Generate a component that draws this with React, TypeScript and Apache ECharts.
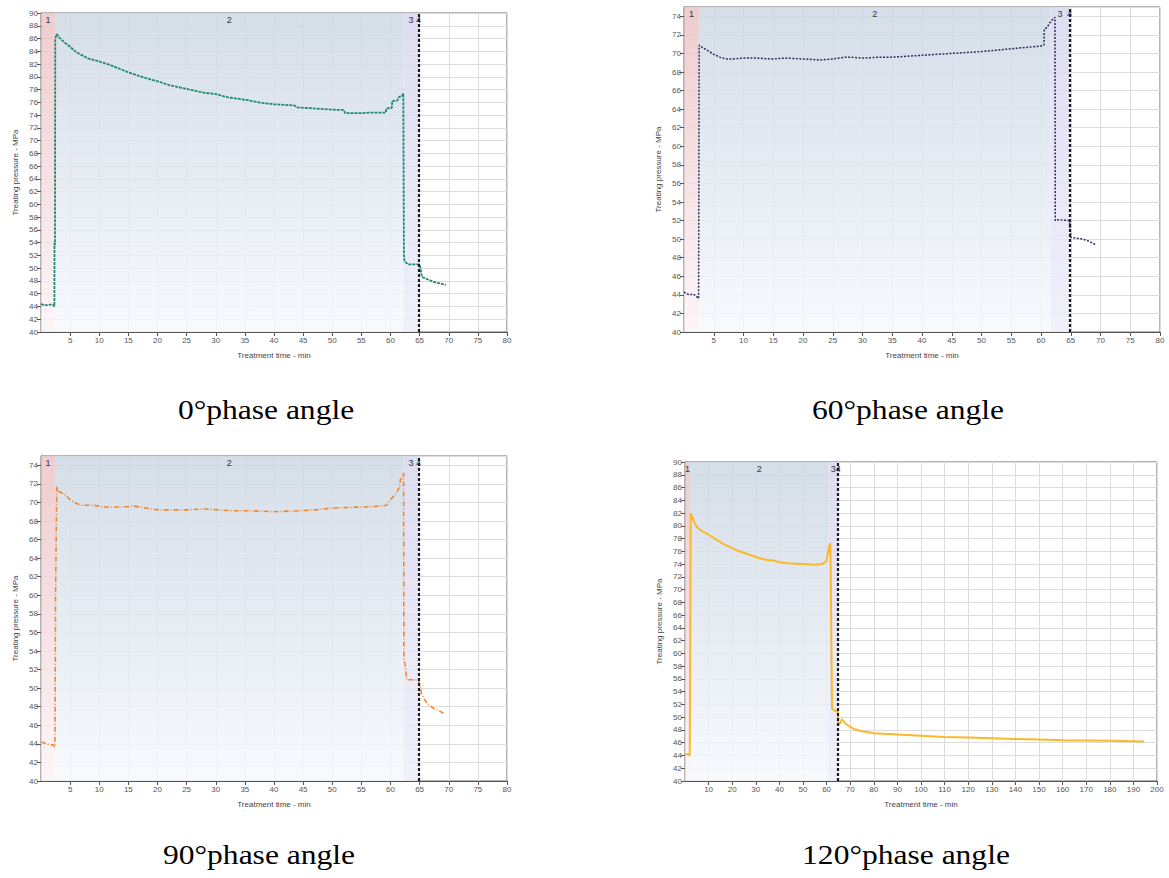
import React, { useEffect, useRef } from 'react';
import * as echarts from 'echarts';

// ---------- data ----------
const time0 = [0, 0.5, 1, 1.5, 2, 2.3, 2.32, 2.4, 2.45, 2.7, 3.2, 4, 5, 6, 7, 8, 10, 12, 15, 18, 20, 22, 25, 28, 30, 32, 35, 38, 40, 43.5, 44, 46, 50, 52, 52.2, 55, 57, 59.2, 59.3, 60.2, 60.3, 61.2, 61.4, 62, 62.2, 62.3, 62.4, 63, 64, 64.9, 65.1, 65.2, 65.4, 66, 67, 68, 69.5];
const pressure0 = [44.4, 44.2, 44.2, 44.3, 44.3, 44.0, 54.0, 53.6, 86.0, 86.7, 86.1, 85.4, 84.7, 83.9, 83.4, 82.9, 82.4, 81.8, 80.7, 79.8, 79.3, 78.7, 78.1, 77.5, 77.3, 76.8, 76.4, 75.9, 75.7, 75.5, 75.2, 75.1, 74.85, 74.8, 74.3, 74.3, 74.4, 74.4, 75.05, 75.1, 76.2, 76.3, 76.8, 77.0, 77.4, 52.2, 51.1, 50.6, 50.6, 50.6, 50.2, 49.7, 48.6, 48.4, 48.0, 47.7, 47.4];

const time60 = [0, 0.5, 1, 1.5, 2, 2.45, 2.55, 2.7, 3.5, 4, 5, 6, 7, 8, 10, 12, 15, 17, 20, 23, 25, 27, 28, 30, 33, 35, 40, 45, 50, 55, 60, 60.5, 60.55, 61, 61.5, 62, 62.35, 62.4, 62.7, 64.7, 64.8, 65, 66, 67, 68, 69.2];
const pressure60 = [44.3, 44.1, 44.0, 44.1, 43.9, 43.6, 70.9, 70.8, 70.5, 70.3, 69.9, 69.6, 69.4, 69.4, 69.5, 69.5, 69.4, 69.5, 69.4, 69.3, 69.4, 69.6, 69.6, 69.5, 69.6, 69.6, 69.8, 70.0, 70.2, 70.5, 70.8, 70.9, 72.6, 72.8, 73.3, 73.7, 73.9, 52.0, 52.1, 52.0, 51.9, 50.2, 50.1, 50.0, 49.8, 49.4];

const time90 = [0, 0.5, 1, 1.5, 2, 2.4, 2.5, 2.7, 3, 4, 5, 6, 7, 9, 11, 14, 16, 18, 20, 25, 28, 33, 36, 40, 44, 47, 50, 55, 58, 59.3, 60, 61, 61.5, 61.7, 62, 62.25, 62.3, 62.5, 62.8, 64.8, 65, 65.3, 65.8, 66.5, 67.5, 68.5, 69.1];
const pressure90 = [44.2, 44.1, 44.0, 43.9, 43.9, 43.7, 60.0, 71.7, 71.2, 70.9, 70.3, 69.9, 69.7, 69.7, 69.5, 69.5, 69.6, 69.4, 69.2, 69.2, 69.3, 69.1, 69.1, 69.0, 69.1, 69.2, 69.4, 69.5, 69.6, 69.7, 70.3, 71.0, 71.6, 72.5, 72.6, 73.2, 53.1, 52.5, 50.9, 50.9, 50.3, 49.5, 48.8, 48.2, 47.8, 47.5, 47.3];

const time120 = [0, 1.5, 2.0, 2.2, 2.4, 3, 4, 5, 7, 10, 13, 16, 20, 23, 27, 31, 35, 37, 40, 45, 50, 55, 58, 60, 61, 61.6, 62.3, 63, 64, 64.8, 65, 65.7, 66.5, 68, 70, 72, 75, 80, 90, 100, 110, 120, 130, 140, 150, 160, 170, 180, 194.6];
const pressure120 = [44.2, 44.2, 44.0, 60.0, 82.0, 81.5, 80.5, 79.8, 79.2, 78.6, 77.9, 77.2, 76.5, 76.0, 75.5, 75.0, 74.6, 74.6, 74.3, 74.1, 74.0, 73.9, 74.0, 74.5, 76.7, 77.3, 51.4, 51.1, 50.9, 51.0, 48.8, 49.0, 49.7, 49.0, 48.5, 48.1, 47.8, 47.5, 47.3, 47.1, 46.9, 46.8, 46.7, 46.6, 46.5, 46.4, 46.35, 46.3, 46.2];

// stage boundaries: end of stage 1, end of stage 2, end of stage 3 (dashed line)
const stages0 = [2.4, 62.2, 64.8];
const stages60 = [2.5, 61.6, 64.8];
const stages90 = [2.4, 62.2, 64.8];
const stages120 = [2.1, 60.8, 64.9];

const captions = ['0°phase angle', '60°phase angle', '90°phase angle', '120°phase angle'];
const xMaxes = [80, 80, 80, 200];
const xIntervals = [5, 5, 5, 10];
const yMaxes = [90, 75, 75, 90];
const lineColors = ['#1f8a6f', '#2b2f5c', '#f2862e', '#fbb82a'];

const times = [time0, time60, time90, time120];
const pressures = [pressure0, pressure60, pressure90, pressure120];
const stages = [stages0, stages60, stages90, stages120];

// ---------- layout ----------
const grids = [
  { left: 41, top: 13, width: 466, height: 319 },
  { left: 684, top: 7, width: 476, height: 325 },
  { left: 41, top: 456, width: 466, height: 325 },
  { left: 685, top: 462, width: 472, height: 319 },
];
const captionPos = [
  { x: 266, y: 410 },
  { x: 908, y: 410 },
  { x: 259, y: 855 },
  { x: 906, y: 855 },
];
const lineTypes: any[] = [[3, 1], [2, 1.5], [5, 2, 1, 2], 'solid'];
const lineWidths = [1.8, 1.5, 1.6, 2];

const grad = (top: string, bottom: string) => ({
  type: 'linear', x: 0, y: 0, x2: 0, y2: 1,
  colorStops: [
    { offset: 0, color: top },
    { offset: 1, color: bottom },
  ],
});

const labelFont = 'Liberation Sans';

function buildOption() {
  const grid: any[] = [];
  const xAxis: any[] = [];
  const yAxis: any[] = [];
  const series: any[] = [];
  const graphic: any[] = [];
  for (let i = 0; i < 4; i++) {
    grid.push({ ...grids[i], show: true, borderColor: '#6a6a6a', borderWidth: 1, backgroundColor: '#fff', containLabel: false });
    xAxis.push({
      type: 'value', gridIndex: i, min: 0, max: xMaxes[i], interval: xIntervals[i],
      name: 'Treatment time - min', nameLocation: 'middle', nameGap: 19,
      nameTextStyle: { fontSize: 8, color: '#444', fontFamily: labelFont },
      axisLine: { lineStyle: { color: '#555' } },
      axisTick: { show: true, length: 4, lineStyle: { color: '#555' } },
      axisLabel: { showMinLabel: false, fontSize: 8, color: '#555', fontFamily: labelFont, margin: 4 },
      splitLine: { show: true, lineStyle: { color: '#dcdcdc' } },
    });
    yAxis.push({
      type: 'value', gridIndex: i, min: 40, max: yMaxes[i], interval: 2,
      name: 'Treating pressure - MPa', nameLocation: 'middle', nameGap: 22,
      nameTextStyle: { fontSize: 8, color: '#444', fontFamily: labelFont },
      axisLine: { show: true, lineStyle: { color: '#555' } },
      axisTick: { show: true, length: 4, lineStyle: { color: '#555' } },
      axisLabel: { showMaxLabel: yMaxes[i] % 2 === 0, fontSize: 8, color: '#555', fontFamily: labelFont, margin: 3 },
      splitLine: { show: true, lineStyle: { color: '#dcdcdc' } },
    });
    const st = stages[i];
    const lbl = { show: true, position: 'insideTop', distance: 2, color: '#333', fontSize: 9, fontFamily: labelFont };
    series.push({
      type: 'line', xAxisIndex: i, yAxisIndex: i,
      data: times[i].map((t, k) => [t, pressures[i][k]]),
      showSymbol: false, symbol: 'none', silent: true,
      lineStyle: { color: lineColors[i], width: lineWidths[i], type: lineTypes[i] },
      z: 3,
      markArea: {
        silent: true,
        data: [
          [{ name: '1', xAxis: 0, itemStyle: { color: grad('rgba(236,196,198,0.85)', 'rgba(252,244,246,0.85)') }, label: lbl }, { xAxis: st[0] }],
          [{ name: '2', xAxis: st[0], itemStyle: { color: grad('rgba(206,216,228,0.85)', 'rgba(246,249,253,0.85)') }, label: lbl }, { xAxis: st[1] }],
          [{ name: '3', xAxis: st[1], itemStyle: { color: grad('rgba(216,216,240,0.85)', 'rgba(238,238,250,0.85)') }, label: lbl }, { xAxis: st[2] }],
          [{ name: '4', xAxis: st[2] - xIntervals[i] * 0.1, itemStyle: { color: 'rgba(0,0,0,0)' }, label: lbl }, { xAxis: st[2] + xIntervals[i] * 0.1 }],
        ],
      },
      markLine: {
        silent: true, symbol: 'none',
        label: { show: false },
        lineStyle: { color: '#1a1a1a', type: [3, 2], width: 2.2 },
        data: [{ xAxis: st[2] }],
      },
    });
    graphic.push({
      type: 'text', x: captionPos[i].x, y: captionPos[i].y, scaleX: 1.19, scaleY: 1,
      style: {
        text: captions[i], fontSize: 26.5, fontFamily: 'Liberation Serif', fill: '#000',
        align: 'center', verticalAlign: 'middle', textAlign: 'center', textVerticalAlign: 'middle',
      },
    });
  }
  return { animation: false, backgroundColor: '#fff', grid, xAxis, yAxis, series, graphic };
}

export default function App() {
  const ref = useRef<HTMLDivElement>(null);
  useEffect(() => {
    if (!ref.current) return;
    const chart = echarts.init(ref.current, undefined, { renderer: 'svg' });
    chart.setOption(buildOption() as any);
    return () => chart.dispose();
  }, []);
  return <div ref={ref} style={{ position: 'fixed', left: 0, top: 0, width: 1169, height: 878, background: '#fff' }} />;
}
